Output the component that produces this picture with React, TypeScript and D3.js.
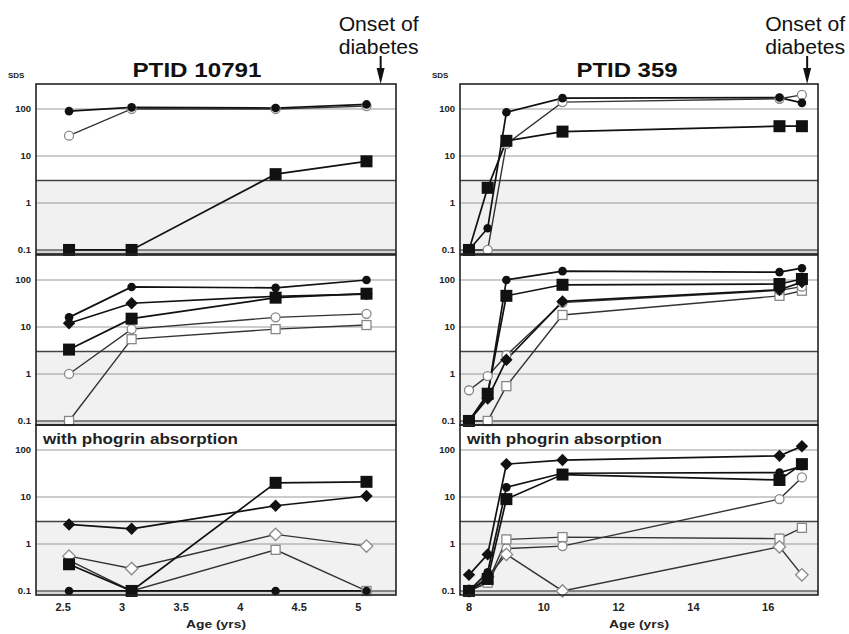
import React, { useEffect, useRef } from 'react';
import * as d3 from 'd3';

// ages of the visits (yrs)
const agesA = [2.55, 3.08, 4.3, 5.07];
const agesB = [8.0, 8.5, 9.0, 10.5, 16.3, 16.9];

const xTicksA = [2.5, 3, 3.5, 4, 4.5, 5];
const xTicksB = [8, 10, 12, 14, 16];
const yTicks = [100, 10, 1, 0.1];
const yTickLabels = ['100', '10', '1', '0.1'];

// PTID 10791
const a1Dot = [90, 108, 105, 125];
const a1Circle = [27, 100, 100, 115];
const a1Square = [0.1, 0.1, 4.1, 7.7];

const a2Dot = [16, 71, 68, 100];
const a2Diamond = [12, 32, 45, 50];
const a2Square = [3.3, 15, 42, 51];
const a2Circle = [1.0, 9, 16, 19];
const a2OSquare = [0.1, 5.5, 9, 11];

const a3Diamond = [2.6, 2.1, 6.5, 10.5];
const a3Square = [0.37, 0.1, 20, 21];
const a3ODiamond = [0.55, 0.3, 1.6, 0.9];
const a3OSquare = [0.45, 0.1, 0.75, 0.1];
const a3Dot = [0.1, 0.1, 0.1, 0.1];

// PTID 359
const b1Dot = [0.1, 0.29, 85, 170, 175, 135];
const b1Circle = [0.1, 0.1, 18, 140, 165, 200];
const b1Square = [0.1, 2.1, 21, 33, 43, 43];

const b2Dot = [0.1, 0.35, 100, 154, 147, 178];
const b2Square = [0.1, 0.38, 46, 79, 82, 105];
const b2Circle = [0.45, 0.9, 2.5, 33, 60, 72];
const b2Diamond = [0.1, 0.3, 2.0, 35, 62, 90];
const b2OSquare = [0.1, 0.1, 0.55, 18, 46, 59];

const b3Diamond = [0.22, 0.6, 50, 61, 75, 120];
const b3Dot = [0.1, 0.25, 16, 32, 33, 45];
const b3Square = [0.1, 0.18, 9, 30, 23, 50];
const b3ODiamond = [0.1, 0.2, 0.6, 0.1, 0.87, 0.22];
const b3OSquare = [0.1, 0.15, 1.25, 1.4, 1.3, 2.2];
const b3Circle = [0.1, 0.15, 0.8, 0.9, 9, 26];

const FONT = '"Liberation Sans", Arial, Helvetica, sans-serif';

const columns = [
  {
    title: 'PTID 10791', titleX: 197, titleLen: 129,
    left: 36, right: 396, domain: [2.27, 5.32], onset: 5.19,
    ages: agesA, ticks: xTicksA,
    panels: [
      [{ shape: 'circle', v: a1Circle }, { shape: 'square', v: a1Square }, { shape: 'dot', v: a1Dot }],
      [{ shape: 'osquare', v: a2OSquare }, { shape: 'circle', v: a2Circle }, { shape: 'square', v: a2Square },
       { shape: 'diamond', v: a2Diamond }, { shape: 'dot', v: a2Dot }],
      [{ shape: 'osquare', v: a3OSquare }, { shape: 'odiamond', v: a3ODiamond }, { shape: 'dot', v: a3Dot },
       { shape: 'square', v: a3Square }, { shape: 'diamond', v: a3Diamond }],
    ],
  },
  {
    title: 'PTID 359', titleX: 627, titleLen: 101,
    left: 460, right: 818, domain: [7.76, 17.33], onset: 17.04,
    ages: agesB, ticks: xTicksB,
    panels: [
      [{ shape: 'circle', v: b1Circle }, { shape: 'square', v: b1Square }, { shape: 'dot', v: b1Dot }],
      [{ shape: 'osquare', v: b2OSquare }, { shape: 'circle', v: b2Circle }, { shape: 'diamond', v: b2Diamond },
       { shape: 'square', v: b2Square }, { shape: 'dot', v: b2Dot }],
      [{ shape: 'circle', v: b3Circle }, { shape: 'osquare', v: b3OSquare }, { shape: 'odiamond', v: b3ODiamond },
       { shape: 'square', v: b3Square }, { shape: 'dot', v: b3Dot }, { shape: 'diamond', v: b3Diamond }],
    ],
  },
];

const panelTops = [84, 255, 425];
const panelH = 170;

function marker(g, shape, x, y) {
  if (shape === 'dot') {
    g.append('circle').attr('cx', x).attr('cy', y).attr('r', 4.3).attr('fill', '#111');
  } else if (shape === 'circle') {
    g.append('circle').attr('cx', x).attr('cy', y).attr('r', 4.5)
      .attr('fill', '#fff').attr('stroke', '#888').attr('stroke-width', 1.3);
  } else if (shape === 'square') {
    g.append('rect').attr('x', x - 6).attr('y', y - 6).attr('width', 12).attr('height', 12).attr('fill', '#111');
  } else if (shape === 'osquare') {
    g.append('rect').attr('x', x - 4.5).attr('y', y - 4.5).attr('width', 9).attr('height', 9)
      .attr('fill', '#fff').attr('stroke', '#888').attr('stroke-width', 1.3);
  } else {
    const r = 6.2;
    const open = shape === 'odiamond';
    g.append('path').attr('d', `M${x},${y - r}L${x + r},${y}L${x},${y + r}L${x - r},${y}Z`)
      .attr('fill', open ? '#fff' : '#111')
      .attr('stroke', open ? '#888' : 'none').attr('stroke-width', 1.3);
  }
}

export default function App() {
  const ref = useRef<SVGSVGElement>(null);

  useEffect(() => {
    const svg = d3.select(ref.current);
    svg.selectAll('*').remove();
    svg.style('font-family', FONT);

    columns.forEach(col => {
      const x = d3.scaleLinear().domain(col.domain).range([col.left, col.right]);
      const g = svg.append('g');

      col.panels.forEach((series, i) => {
        const top = panelTops[i];
        const y = d3.scaleLog().domain([0.082, 340]).range([top + panelH, top]);

        // normal range shading below 3 SDS
        g.append('rect').attr('x', col.left).attr('y', y(3))
          .attr('width', col.right - col.left).attr('height', y(0.1) - y(3)).attr('fill', '#f1f1f1');
        g.append('rect').attr('x', col.left).attr('y', y(0.1))
          .attr('width', col.right - col.left).attr('height', top + panelH - y(0.1)).attr('fill', '#d6d6d6');

        g.append('g').selectAll('line').data(yTicks).join('line')
          .attr('x1', col.left).attr('x2', col.right)
          .attr('y1', d => y(d)).attr('y2', d => y(d))
          .attr('stroke', d => d === 0.1 ? '#666' : '#9a9a9a')
          .attr('stroke-width', d => d === 0.1 ? 1.5 : 1.1);
        g.append('line').attr('x1', col.left).attr('x2', col.right)
          .attr('y1', y(3)).attr('y2', y(3)).attr('stroke', '#444').attr('stroke-width', 1.6);

        g.append('g').selectAll('text').data(yTicks).join('text')
          .attr('x', col.left - 5).attr('y', d => y(d) + 3.5)
          .attr('text-anchor', 'end').attr('font-size', 9.5).attr('font-weight', 'bold')
          .attr('fill', '#222')
          .text((d, j) => yTickLabels[j]);

        const line = d3.line<number>().x((d, j) => x(col.ages[j])).y(d => y(d));
        series.forEach(s => {
          const open = s.shape === 'circle' || s.shape === 'osquare' || s.shape === 'odiamond';
          g.append('path').attr('d', line(s.v)).attr('fill', 'none')
            .attr('stroke', open ? '#333' : '#111')
            .attr('stroke-width', open ? 1.4 : 1.7);
        });
        series.forEach(s => {
          s.v.forEach((v, j) => marker(g, s.shape, x(col.ages[j]), y(v)));
        });

        g.append('rect').attr('x', col.left).attr('y', top)
          .attr('width', col.right - col.left).attr('height', panelH)
          .attr('fill', 'none').attr('stroke', '#222').attr('stroke-width', 1.6);

        if (i === 2) {
          g.append('text').attr('x', col.left + 7).attr('y', top + 19)
            .attr('font-size', 15).attr('font-weight', 'bold').attr('fill', '#222')
            .attr('textLength', 195).attr('lengthAdjust', 'spacingAndGlyphs')
            .text('with phogrin absorption');
        }
      });

      // x axis labels
      const bottom = panelTops[2] + panelH;
      g.append('g').selectAll('text').data(col.ticks).join('text')
        .attr('x', d => x(d)).attr('y', bottom + 16)
        .attr('text-anchor', 'middle').attr('font-size', 11).attr('font-weight', 'bold').attr('fill', '#222')
        .text(d => d3.format('~g')(d));
      g.append('text').attr('x', (col.left + col.right) / 2).attr('y', bottom + 33)
        .attr('text-anchor', 'middle').attr('font-size', 11).attr('font-weight', 'bold').attr('fill', '#222')
        .attr('textLength', 60).attr('lengthAdjust', 'spacingAndGlyphs')
        .text('Age (yrs)');

      g.append('text').attr('x', col.left - 28).attr('y', 78)
        .attr('font-size', 8).attr('font-weight', 'bold').attr('fill', '#222').text('SDS');

      g.append('text').attr('x', col.titleX).attr('y', 77)
        .attr('text-anchor', 'middle').attr('font-size', 21).attr('font-weight', 'bold').attr('fill', '#111')
        .attr('textLength', col.titleLen).attr('lengthAdjust', 'spacingAndGlyphs')
        .text(col.title);

      // onset of diabetes arrow
      const ox = x(col.onset);
      g.append('text').attr('x', ox - 2).attr('y', 31)
        .attr('text-anchor', 'middle').attr('font-size', 20).attr('fill', '#111')
        .attr('textLength', 80).attr('lengthAdjust', 'spacingAndGlyphs').text('Onset of');
      g.append('text').attr('x', ox - 2).attr('y', 54)
        .attr('text-anchor', 'middle').attr('font-size', 20).attr('fill', '#111')
        .attr('textLength', 80).attr('lengthAdjust', 'spacingAndGlyphs').text('diabetes');
      g.append('line').attr('x1', ox).attr('x2', ox).attr('y1', 56).attr('y2', 72)
        .attr('stroke', '#111').attr('stroke-width', 2);
      g.append('path').attr('d', `M${ox - 4},${68}L${ox + 4},${68}L${ox},${84}Z`).attr('fill', '#111');
    });
  }, []);

  return (
    <svg ref={ref} width={849} height={634}
      style={{ position: 'absolute', left: 0, top: 0, background: '#fff' }} />
  );
}
